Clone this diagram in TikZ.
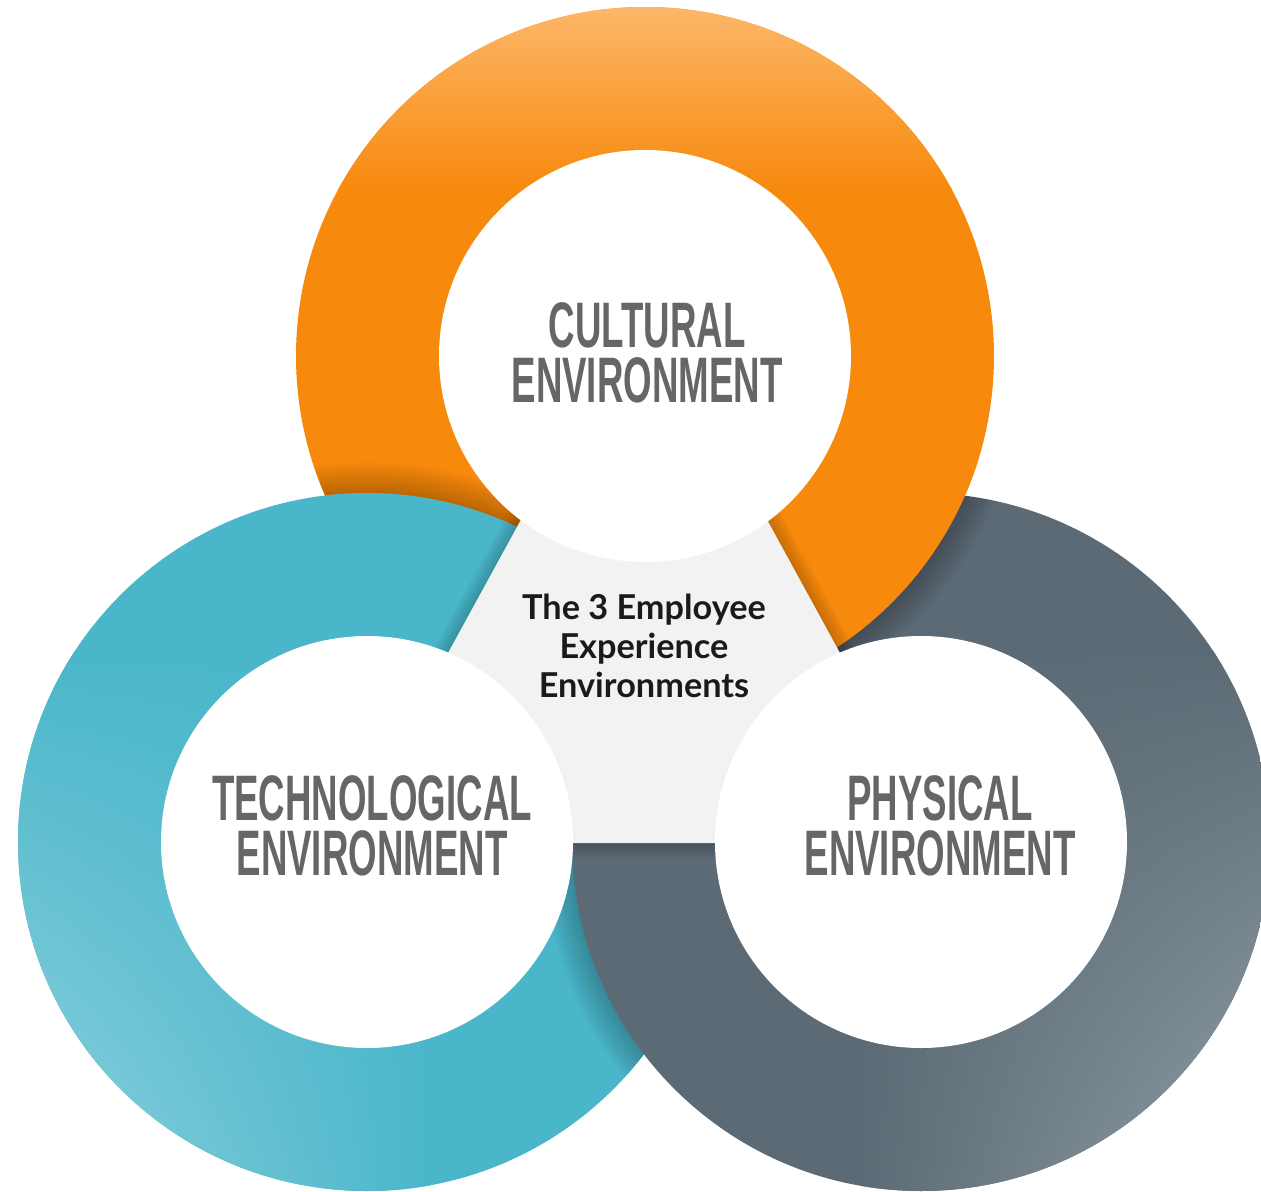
\documentclass[tikz,border=0pt]{standalone}
\usepackage{fontspec}
\usetikzlibrary{shadings}
\newfontfamily\titlefont{Liberation Sans}
\newfontfamily\centerfont{Lato}
\definecolor{orangemain}{HTML}{F7890D}
\definecolor{orangelight}{HTML}{FDB96C}
\definecolor{tealmain}{HTML}{4AB6CA}
\definecolor{teallight}{HTML}{95D4DF}
\definecolor{slatemain}{HTML}{5C6A75}
\definecolor{slatelight}{HTML}{95A3AC}
\definecolor{centergray}{HTML}{F2F2F2}
\definecolor{titlegray}{HTML}{666666}
\definecolor{centerink}{HTML}{1A1A1A}
\newcommand{\squeeze}[1]{\scalebox{0.57}[1]{#1}}
% ring fills, each clipped to its own disk
\newcommand{\orangedisk}{%
	\begin{scope}
		\clip (O) circle (349);
		\fill[orangemain] (280,10) rectangle (1010,-720);
		\shade[top color=orangelight,bottom color=orangemain] (280,0) rectangle (1010,-190);
	\end{scope}}
\newcommand{\tealdisk}{%
	\begin{scope}
		\clip (T) circle (349);
		\fill[tealmain] (0,-480) rectangle (730,-1200);
		\shade[lower left=teallight,upper left=tealmain,upper right=tealmain,lower right=tealmain] (0,-650) rectangle (430,-1200);
	\end{scope}}
\newcommand{\slatedisk}{%
	\begin{scope}
		\clip (G) circle (349);
		\fill[slatemain] (560,-480) rectangle (1280,-1200);
		\shade[lower right=slatelight,upper left=slatemain,upper right=slatemain,lower left=slatemain] (860,-650) rectangle (1280,-1200);
	\end{scope}}
\tikzset{
	ringtitle/.style={font=\titlefont\bfseries\fontsize{36.6}{31.3}\selectfont,text=titlegray,align=center,inner sep=0pt},
	centertext/.style={font=\centerfont\bfseries\fontsize{19.5}{22}\selectfont,text=centerink,align=center,inner sep=0pt},
	ringshade/.style={black,opacity=0.022},
}
\begin{document}
\begin{tikzpicture}[line join=round,x=0.2mm,y=0.2mm]
	\useasboundingbox (0,0) rectangle (1261,-1192);
	\path
	(645,-356)coordinate(O)
	(367,-842)coordinate(T)
	(921,-842)coordinate(G)
	(644,-295)coordinate(apex)
	(344,-843)coordinate(baseL)
	(944,-843)coordinate(baseR)
	;
	% orange first, teal lies on it
	\orangedisk
	\begin{scope}
		\clip (O) circle (349);
		\foreach \r in {3,6,...,30} \fill[ringshade] (T) circle[radius=349+\r];
	\end{scope}
	\tealdisk
	% gray lies on teal
	\begin{scope}
		\clip (T) circle (349);
		\foreach \r in {3,6,...,30} \fill[ringshade] (G) circle[radius=349+\r];
	\end{scope}
	\slatedisk
	% orange again on top of gray
	\begin{scope}
		\clip (G) circle (349);
		\foreach \r in {3,6,...,30} \fill[ringshade] (O) circle[radius=349+\r];
	\end{scope}
	\begin{scope}
		\clip (G) circle (390);
		\orangedisk
	\end{scope}
	% centre piece
	\foreach \w in {1,2,...,6} \draw[black,opacity=0.03,line width=\w mm] (apex)--(baseL)--(baseR)--cycle;
	\fill[centergray] (apex)--(baseL)--(baseR)--cycle;
	\fill[white] (O) circle (206) (T) circle (206) (G) circle (206);
	%\draw[red] (O) circle (349) (T) circle (349) (G) circle (349);
	\node[ringtitle] (cultural) at (647,-353) {\squeeze{CULTURAL}\\\squeeze{ENVIRONMENT}};
	\node[ringtitle] (technological) at (372,-826) {\squeeze{TECHNOLOGICAL}\\\squeeze{ENVIRONMENT}};
	\node[ringtitle] (physical) at (940,-826) {\squeeze{PHYSICAL}\\\squeeze{ENVIRONMENT}};
	\node[centertext] (core) at (644,-646) {The 3 Employee\\Experience\\Environments};
\end{tikzpicture}
\end{document}
